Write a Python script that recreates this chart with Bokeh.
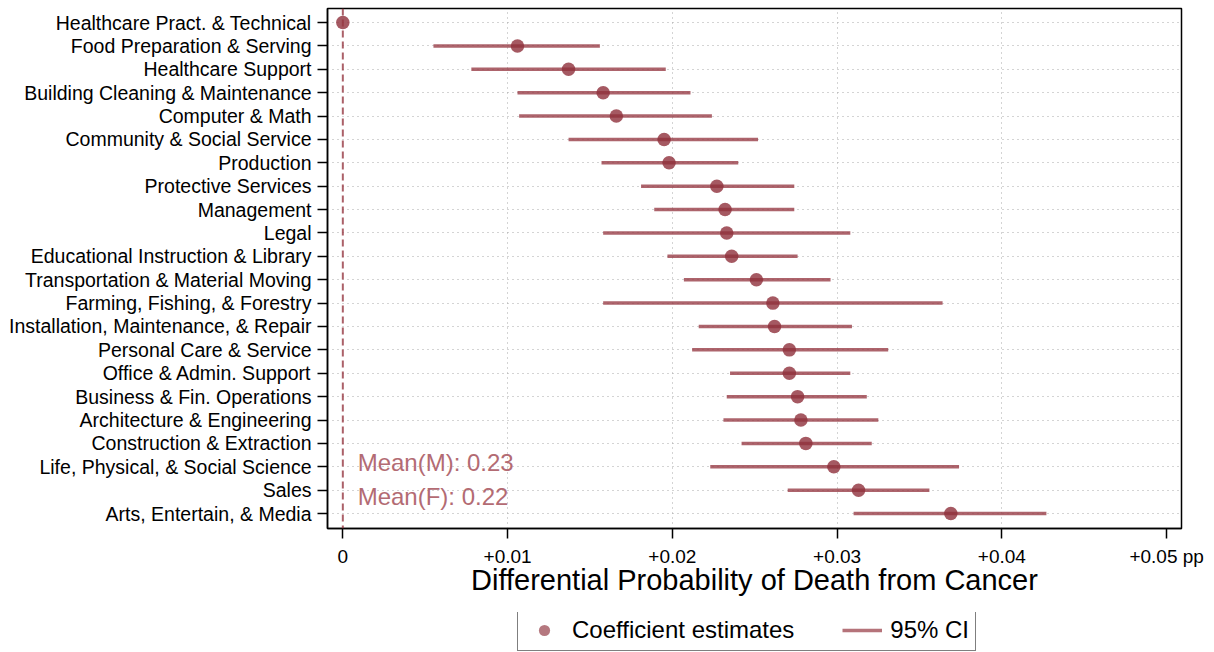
from bokeh.plotting import figure
from bokeh.layouts import column
from bokeh.models import (ColumnDataSource, FixedTicker, Span, Label, Legend,
                          LegendItem, Range1d)
from bokeh.embed import file_html
from bokeh.resources import INLINE

categories = [
    "Healthcare Pract. & Technical",
    "Food Preparation & Serving",
    "Healthcare Support",
    "Building Cleaning & Maintenance",
    "Computer & Math",
    "Community & Social Service",
    "Production",
    "Protective Services",
    "Management",
    "Legal",
    "Educational Instruction & Library",
    "Transportation & Material Moving",
    "Farming, Fishing, & Forestry",
    "Installation, Maintenance, & Repair",
    "Personal Care & Service",
    "Office & Admin. Support",
    "Business & Fin. Operations",
    "Architecture & Engineering",
    "Construction & Extraction",
    "Life, Physical, & Social Science",
    "Sales",
    "Arts, Entertain, & Media",
]
estimates = [0.0, 0.0106, 0.0137, 0.0158, 0.0166, 0.0195, 0.0198, 0.0227, 0.0232,
             0.0233, 0.0236, 0.0251, 0.0261, 0.0262, 0.0271, 0.0271, 0.0276,
             0.0278, 0.0281, 0.0298, 0.0313, 0.0369]
ci_low = [0.0, 0.0055, 0.0078, 0.0106, 0.0107, 0.0137, 0.0157, 0.0181, 0.0189,
          0.0158, 0.0197, 0.0207, 0.0158, 0.0216, 0.0212, 0.0235, 0.0233,
          0.0231, 0.0242, 0.0223, 0.0270, 0.0310]
ci_high = [0.0, 0.0156, 0.0196, 0.0211, 0.0224, 0.0252, 0.0240, 0.0274, 0.0274,
           0.0308, 0.0276, 0.0296, 0.0364, 0.0309, 0.0331, 0.0308, 0.0318,
           0.0325, 0.0321, 0.0374, 0.0356, 0.0427]
x_ticks = [0, 0.01, 0.02, 0.03, 0.04, 0.05]
x_tick_labels = ["0", "+0.01", "+0.02", "+0.03", "+0.04", "+0.05 pp"]
x_grid_ticks = [0.01, 0.02, 0.03, 0.04]
mean_labels = ["Mean(M): 0.23", "Mean(F): 0.22"]
mean_label_y = [2.2, 0.75]
x_title = "Differential Probability of Death from Cancer"
legend_labels = ["Coefficient estimates", "95% CI"]

FONT = "Liberation Sans"
DOT_COLOR = "#8e2f3b"
LINE_COLOR = "#963842"
n = len(categories)
ypos = [n - 1 - i for i in range(n)]
src = ColumnDataSource(dict(cat=categories, y=ypos, est=estimates,
                            lo=ci_low, hi=ci_high))

p = figure(width=1214, height=612, output_backend="svg", toolbar_location=None,
           x_range=Range1d(-0.00093, 0.0509), y_range=Range1d(-0.64, n - 1 + 0.6),
           min_border_left=327, min_border_right=33, min_border_top=8,
           min_border_bottom=84)
p.background_fill_color = "white"
p.border_fill_color = "white"
p.outline_line_color = "black"
p.outline_line_width = 1.5
p.outline_line_alpha = 1

# grids
p.ygrid.ticker = FixedTicker(ticks=ypos)
p.xgrid.ticker = FixedTicker(ticks=x_grid_ticks)
for g in (p.xgrid, p.ygrid):
    g.grid_line_color = "#a8a8a8"
    g.grid_line_dash = "1 4"
    g.grid_line_width = 1

# zero line
p.add_layout(Span(location=0, dimension="height", line_color=LINE_COLOR,
                  line_alpha=0.8, line_width=2, line_dash="7 4"))

segs = p.segment(x0="lo", y0="y", x1="hi", y1="y", source=src,
                 line_color=LINE_COLOR, line_alpha=0.78, line_width=3.5,
                 line_cap="butt")
dots = p.scatter(x="est", y="y", source=src, size=13.5, fill_color=DOT_COLOR,
                 fill_alpha=0.8, line_color=None)

for txt, yy in zip(mean_labels, mean_label_y):
    p.add_layout(Label(x=0.0009, y=yy, text=txt, text_font=FONT,
                       text_font_size="24px", text_color="#b36b73",
                       text_baseline="middle", text_align="left"))

# axes
p.yaxis.ticker = FixedTicker(ticks=ypos)
p.yaxis.major_label_overrides = {y: c for y, c in zip(ypos, categories)}
p.xaxis.ticker = FixedTicker(ticks=x_ticks)
p.xaxis.major_label_overrides = {t: l for t, l in zip(x_ticks, x_tick_labels)}
p.xaxis.axis_label = x_title
for ax in (p.xaxis, p.yaxis):
    ax.axis_line_color = "black"
    ax.axis_line_width = 1.5
    ax.major_tick_line_color = "black"
    ax.major_tick_line_width = 1.5
    ax.major_tick_in = 0
    ax.major_tick_out = 10
    ax.minor_tick_line_color = None
    ax.major_label_text_font = FONT
    ax.major_label_text_color = "black"
    ax.axis_label_text_font = FONT
    ax.axis_label_text_font_style = "normal"
    ax.axis_label_text_color = "black"
p.yaxis.major_label_text_font_size = "19.5px"
p.yaxis.major_label_standoff = 6
p.xaxis.major_label_text_font_size = "19px"
p.xaxis.major_label_standoff = 7
p.xaxis.axis_label_text_font_size = "29px"
p.xaxis.axis_label_standoff = -6

# legend strip below the chart (its frame is aligned with the chart frame, x=327)
q = figure(width=1214, height=40, output_backend="svg", toolbar_location=None,
           x_range=Range1d(0, 1), y_range=Range1d(0, 1),
           min_border=0, min_border_left=0, min_border_right=0,
           min_border_top=0, min_border_bottom=0)
q.xaxis.visible = False
q.yaxis.visible = False
q.grid.visible = False
q.outline_line_color = None
q.background_fill_color = "white"
q.border_fill_color = "white"
# legend swatches (kept outside the visible range; only shown in the legend)
ldots = q.scatter(x=[-5], y=[-5], size=13.5, fill_color=DOT_COLOR,
                  fill_alpha=0.65, line_color=None)
lsegs = q.segment(x0=[-5], y0=[-5], x1=[-4], y1=[-5], line_color=LINE_COLOR,
                  line_alpha=0.7, line_width=3.5, line_cap="butt")
legend = Legend(items=[LegendItem(label=legend_labels[0], renderers=[ldots]),
                       LegendItem(label=legend_labels[1], renderers=[lsegs])],
                location=(190, 1), orientation="horizontal",
                label_text_font=FONT, label_text_font_size="24px",
                label_text_color="black", glyph_width=40, glyph_height=28,
                label_height=24, label_standoff=8, spacing=48, padding=6,
                margin=0, border_line_color="black", border_line_width=1,
                background_fill_color="white", background_fill_alpha=1)
q.add_layout(legend, "center")

layout = column(p, q, spacing=0)
open("out.html", "w").write(file_html(layout, INLINE))
